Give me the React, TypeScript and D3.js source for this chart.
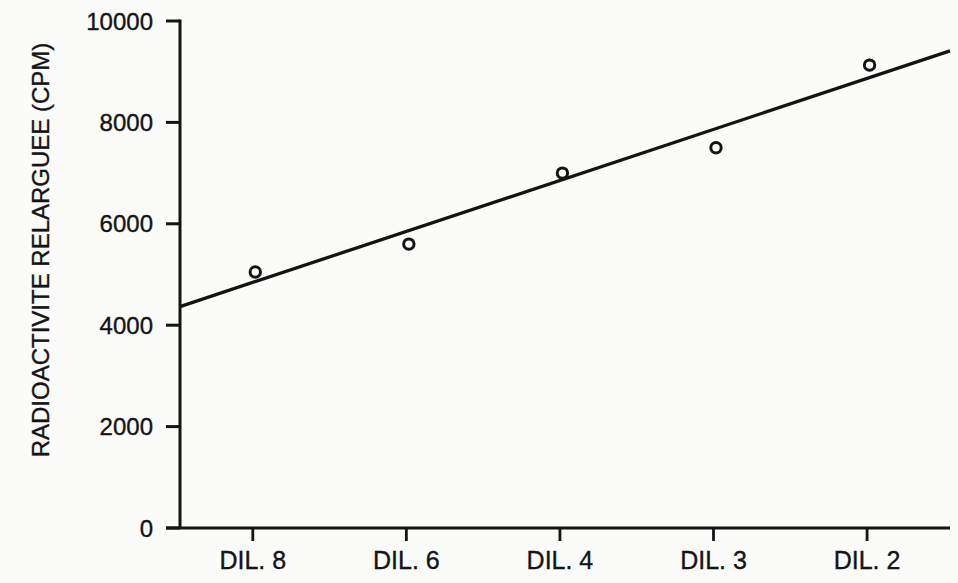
import React from "react";
import * as d3 from "d3";

const categories = ["DIL. 8", "DIL. 6", "DIL. 4", "DIL. 3", "DIL. 2"];
const positions = [1, 2, 3, 4, 5];
const values = [5050, 5600, 7000, 7500, 9130];
const yTicks = [0, 2000, 4000, 6000, 8000, 10000];
const yLabel = "RADIOACTIVITE RELARGUEE (CPM)";

const W = 958;
const H = 583;
const FONT = "'Liberation Sans', Arial, Helvetica, sans-serif";
const INK = "#141414";

export default function App() {
  const x = d3.scaleLinear().domain([0.526, 5.54]).range([180, 950]);
  const y = d3.scaleLinear().domain([0, 10000]).range([528, 21]);

  // least-squares fit
  const mx = d3.mean(positions) as number;
  const my = d3.mean(values) as number;
  let num = 0;
  let den = 0;
  positions.forEach((p, i) => {
    num += (p - mx) * (values[i] - my);
    den += (p - mx) * (p - mx);
  });
  const slope = num / den;
  const intercept = my - slope * mx;
  const [x0, x1] = x.domain();
  const fit: [number, number][] = [
    [x0, intercept + slope * x0],
    [x1, intercept + slope * x1],
  ];
  const lineGen = d3
    .line<[number, number]>()
    .x((d) => x(d[0]))
    .y((d) => y(d[1]));

  const axisX = x.range()[0];
  const axisY = y(0);
  const textProps = {
    fontFamily: FONT,
    fill: INK,
    stroke: INK,
    strokeWidth: 0.35,
  };

  return (
    <svg
      width={W}
      height={H}
      style={{ position: "absolute", left: 0, top: 0, background: "#fbfbf9" }}
    >
      {/* y axis */}
      <line x1={axisX} x2={axisX} y1={y(10000) - 1.5} y2={axisY} stroke={INK} strokeWidth={3} />
      {yTicks.map((t) => (
        <g key={t}>
          <line x1={axisX - 14} x2={axisX} y1={y(t)} y2={y(t)} stroke={INK} strokeWidth={3} />
          <text x={axisX - 27} y={y(t)} dy="0.36em" textAnchor="end" fontSize={24} {...textProps}>
            {t}
          </text>
        </g>
      ))}
      {/* x axis */}
      <line x1={axisX - 14} x2={x.range()[1]} y1={axisY} y2={axisY} stroke={INK} strokeWidth={3.2} />
      {categories.map((c, i) => (
        <g key={c}>
          <line
            x1={x(positions[i])}
            x2={x(positions[i])}
            y1={axisY}
            y2={axisY + 13}
            stroke={INK}
            strokeWidth={2.8}
          />
          <text x={x(positions[i])} y={axisY + 41} textAnchor="middle" fontSize={25} {...textProps}>
            {c}
          </text>
        </g>
      ))}
      {/* y label */}
      <text
        transform={`translate(49, 250) rotate(-90)`}
        textAnchor="middle"
        fontSize={24}
        {...textProps}
      >
        {yLabel}
      </text>
      {/* fit line */}
      <path d={lineGen(fit) || ""} fill="none" stroke={INK} strokeWidth={3.3} />
      {/* points */}
      {values.map((v, i) => (
        <circle
          key={i}
          cx={x(positions[i]) + 2.5}
          cy={y(v)}
          r={5.2}
          fill="none"
          stroke={INK}
          strokeWidth={3}
        />
      ))}
    </svg>
  );
}
